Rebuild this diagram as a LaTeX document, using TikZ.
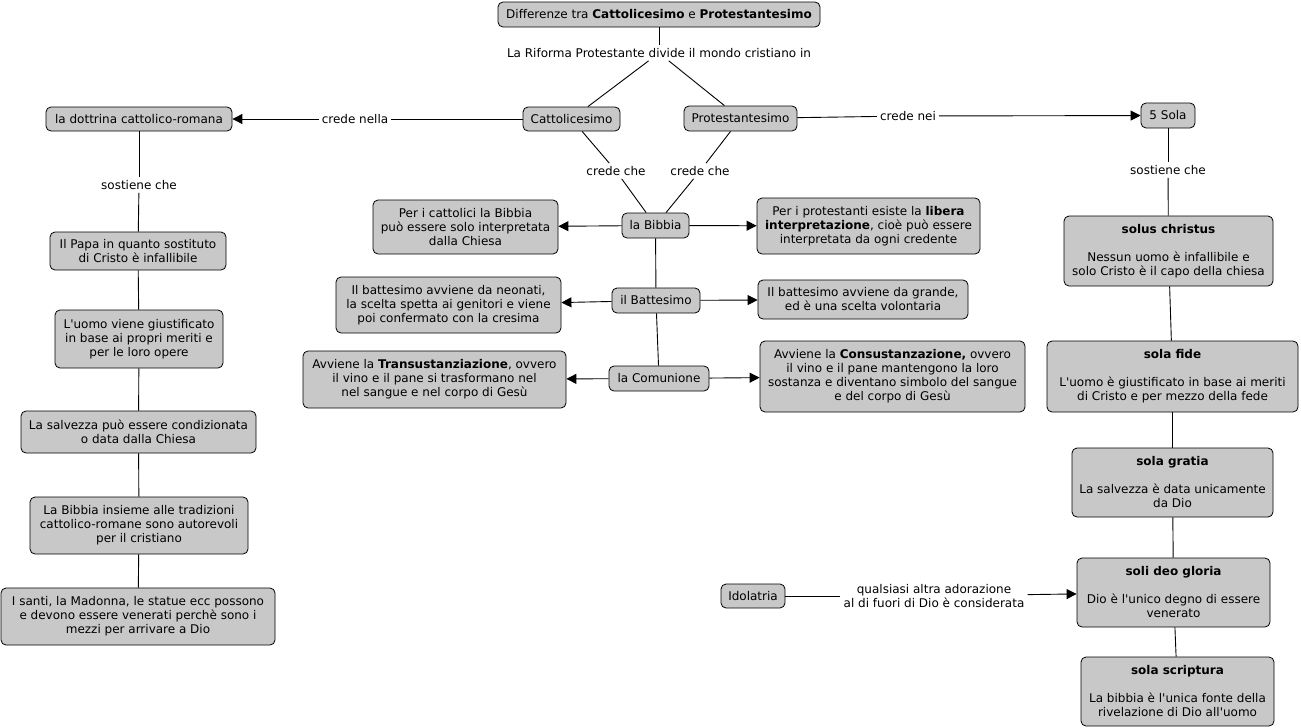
\documentclass[tikz,border=0pt]{standalone}
\usepackage{fontspec}
\setmainfont{DejaVu Sans}[Ligatures=TeXOff]
\usetikzlibrary{arrows.meta}
\definecolor{boxgray}{RGB}{200,200,200}
\begin{document}
\begin{tikzpicture}[x=1pt,y=-1pt,
  every node/.style={font=\fontsize{12}{14}\selectfont, align=center},
  box/.style={draw=black, fill=boxgray, rounded corners=5pt, inner sep=1pt, line width=0.8pt},
  phrase/.style={inner sep=3pt},
  conn/.style={line width=0.9pt, draw=black},
  arr/.style={conn, -{Triangle[length=10pt,width=10pt]}}
]
\useasboundingbox[fill=white] (0,0) rectangle (1301,728);

% top
\node[box, minimum width=322, minimum height=25] (title) at (659,14.5) {Differenze tra \textbf{Cattolicesimo} e \textbf{Protestantesimo}};
\node[phrase] (riforma) at (659,53) {La Riforma Protestante divide il mondo cristiano in};
\node[box, minimum width=97, minimum height=24] (catt) at (571.5,119) {Cattolicesimo};
\node[box, minimum width=113, minimum height=25] (prot) at (740.5,118.5) {Protestantesimo};

% left branch
\node[phrase] (credenella) at (355,119) {crede nella};
\node[box, minimum width=186, minimum height=24] (dottrina) at (139,119) {la dottrina cattolico-romana};
\node[phrase] (sostL) at (139,185) {sostiene che};
\node[box, minimum width=176, minimum height=38] (papa) at (138,251) {Il Papa in quanto sostituto\\di Cristo è infallibile};
\node[box, minimum width=168, minimum height=58] (uomo) at (139,339) {L'uomo viene giustificato\\in base ai propri meriti e\\per le loro opere};
\node[box, minimum width=235, minimum height=42] (salv) at (138.5,432) {La salvezza può essere condizionata\\o data dalla Chiesa};
\node[box, minimum width=218, minimum height=57] (bibbiaT) at (139,525.5) {La Bibbia insieme alle tradizioni\\cattolico-romane sono autorevoli\\per il cristiano};
\node[box, minimum width=274, minimum height=57] (santi) at (138,616.5) {I santi, la Madonna, le statue ecc possono\\e devono essere venerati perchè sono i\\mezzi per arrivare a Dio};

% right branch
\node[phrase] (credenei) at (908,116) {crede nei};
\node[box, minimum width=54, minimum height=25] (sola5) at (1168,115.5) {5 Sola};
\node[phrase] (sostR) at (1168,170) {sostiene che};
\node[box, minimum width=209, minimum height=70] (solus) at (1168.5,251) {\textbf{solus christus}\\[14pt]Nessun uomo è infallibile e\\solo Cristo è il capo della chiesa};
\node[box, minimum width=251, minimum height=71] (fide) at (1172.5,376.5) {\textbf{sola fide}\\[14pt]L'uomo è giustificato in base ai meriti\\di Cristo e per mezzo della fede};
\node[box, minimum width=201, minimum height=69] (gratia) at (1172.5,482.5) {\textbf{sola gratia}\\[14pt]La salvezza è data unicamente\\da Dio};
\node[box, minimum width=193, minimum height=69] (gloria) at (1173.5,592.5) {\textbf{soli deo gloria}\\[14pt]Dio è l'unico degno di essere\\venerato};
\node[box, minimum width=193, minimum height=69] (scriptura) at (1177.5,691.5) {\textbf{sola scriptura}\\[14pt]La bibbia è l'unica fonte della\\rivelazione di Dio all'uomo};
\node[box, minimum width=64, minimum height=24] (idol) at (753,596) {Idolatria};
\node[phrase] (qualsiasi) at (934,596) {qualsiasi altra adorazione\\al di fuori di Dio è considerata};

% middle
\node[phrase] (credecheL) at (616,171) {crede che};
\node[phrase] (credecheR) at (700,171) {crede che};
\node[box, minimum width=67, minimum height=25] (bibbia) at (655.5,225.5) {la Bibbia};
\node[box, minimum width=185, minimum height=54] (cattBib) at (465.5,227) {Per i cattolici la Bibbia\\può essere solo interpretata\\dalla Chiesa};
\node[box, minimum width=223, minimum height=56] (protBib) at (868.5,226) {Per i protestanti esiste la \textbf{libera}\\\textbf{interpretazione}, cioè può essere\\interpretata da ogni credente};
\node[box, minimum width=88, minimum height=25] (batt) at (656,300.5) {il Battesimo};
\node[box, minimum width=225, minimum height=56] (cattBatt) at (448.5,305) {Il battesimo avviene da neonati,\\la scelta spetta ai genitori e viene\\poi confermato con la cresima};
\node[box, minimum width=210, minimum height=39] (protBatt) at (863,299.5) {Il battesimo avviene da grande,\\ed è una scelta volontaria};
\node[box, minimum width=100, minimum height=25] (com) at (659,378.5) {la Comunione};
\node[box, minimum width=263, minimum height=57] (cattCom) at (434.5,379.5) {Avviene la \textbf{Transustanziazione}, ovvero\\il vino e il pane si trasformano nel\\nel sangue e nel corpo di Gesù};
\node[box, minimum width=265, minimum height=71] (protCom) at (892.5,376.5) {Avviene la \textbf{Consustanzazione,} ovvero\\il vino e il pane mantengono la loro\\sostanza e diventano simbolo del sangue\\e del corpo di Gesù};

% connectors
\draw[conn] (title) -- (riforma);
\draw[conn] (riforma) -- (catt);
\draw[conn] (riforma) -- (prot);
\draw[conn] (catt) -- (credenella);
\draw[arr] (credenella) -- (dottrina);
\draw[conn] (prot) -- (credenei);
\draw[arr] (credenei) -- (sola5);
\draw[conn] (dottrina) -- (sostL);
\draw[conn] (sostL) -- (papa);
\draw[conn] (papa) -- (uomo);
\draw[conn] (uomo) -- (salv);
\draw[conn] (salv) -- (bibbiaT);
\draw[conn] (bibbiaT) -- (santi);
\draw[conn] (sola5) -- (sostR);
\draw[conn] (sostR) -- (solus);
\draw[conn] (solus) -- (fide);
\draw[conn] (fide) -- (gratia);
\draw[conn] (gratia) -- (gloria);
\draw[conn] (gloria) -- (scriptura);
\draw[conn] (idol) -- (qualsiasi);
\draw[arr] (qualsiasi) -- (gloria);
\draw[conn] (catt) -- (credecheL);
\draw[conn] (credecheL) -- (bibbia);
\draw[conn] (prot) -- (credecheR);
\draw[conn] (credecheR) -- (bibbia);
\draw[arr] (bibbia) -- (cattBib);
\draw[arr] (bibbia) -- (protBib);
\draw[conn] (bibbia) -- (batt);
\draw[arr] (batt) -- (cattBatt);
\draw[arr] (batt) -- (protBatt);
\draw[conn] (batt) -- (com);
\draw[arr] (com) -- (cattCom);
\draw[arr] (com) -- (protCom);
\end{tikzpicture}
\end{document}
